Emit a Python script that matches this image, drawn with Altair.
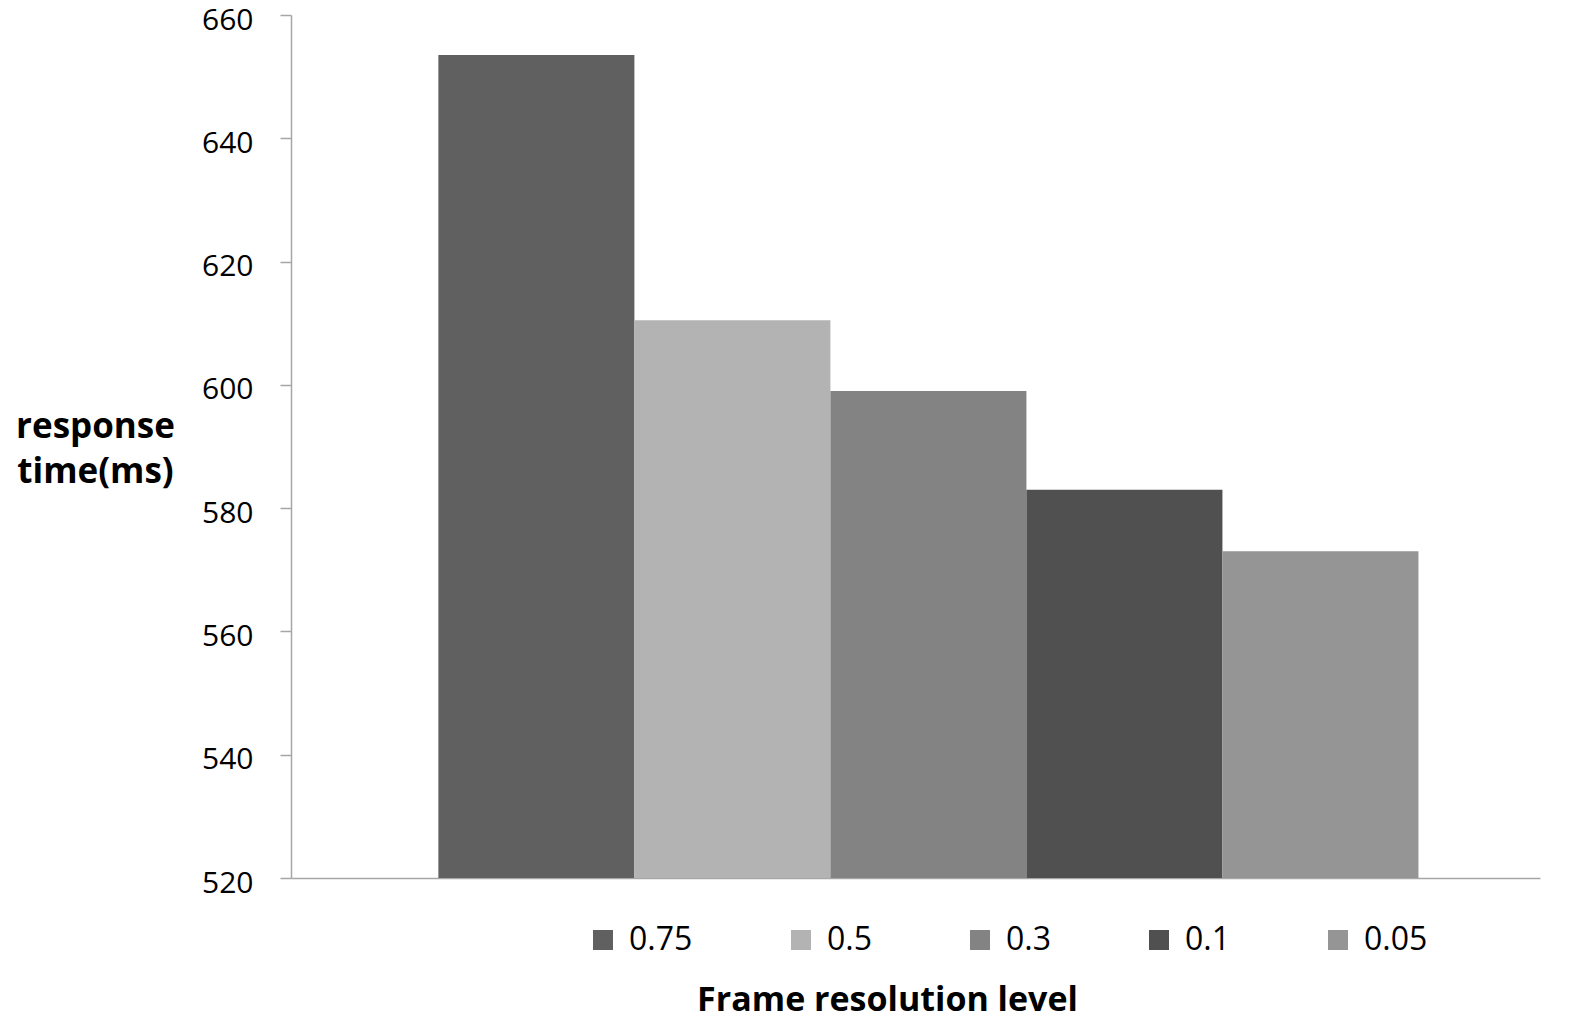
import altair as alt
import pandas as pd

levels = ["0.75", "0.5", "0.3", "0.1", "0.05"]
response_ms = [653.5, 610.5, 599.0, 583.0, 573.0]
colors = ["#606060", "#b3b3b3", "#838383", "#505050", "#959595"]
y_ticks = [520, 540, 560, 580, 600, 620, 640, 660]

df = pd.DataFrame({"level": levels, "rt": response_ms})

FONT = "Open Sans"

chart = alt.Chart(df).mark_bar(strokeWidth=0, clip=True).encode(
    x=alt.X(
        "level:N",
        sort=levels,
        scale=alt.Scale(paddingInner=0, paddingOuter=0.686, align=0.548),
        axis=alt.Axis(
            labels=False, ticks=False, domain=True, domainColor="#a6a6a6", domainWidth=1.5,
            title="Frame resolution level", titleFont=FONT, titleFontSize=34,
            titleFontWeight="bold", titleColor="#000000",
            titleX=596, titleY=132, titleAlign="center", titleBaseline="alphabetic",
        ),
    ),
    y=alt.Y(
        "rt:Q",
        scale=alt.Scale(domain=[520, 660], zero=False, nice=False),
        axis=alt.Axis(
            values=y_ticks, grid=False, tickSize=11, tickColor="#a6a6a6", tickWidth=1.5,
            domainColor="#a6a6a6", domainWidth=1.5,
            labelFont=FONT, labelFontSize=30, labelColor="#000000", labelPadding=27,
            labelOffset=5,
            title=["response", "time(ms)"], titleFont=FONT, titleFontSize=35,
            titleFontWeight="bold", titleColor="#000000", titleAngle=0,
            titleX=-196, titleY=422, titleAlign="center", titleBaseline="alphabetic",
            titleLineHeight=45,
        ),
    ),
    color=alt.Color(
        "level:N",
        sort=levels,
        scale=alt.Scale(domain=levels, range=colors),
        legend=alt.Legend(
            title=None, orient="none", legendX=296, legendY=909, direction="horizontal",
            columns=5, gridAlign="none", columnPadding=92, padding=0,
            symbolType="square", symbolSize=400, symbolStrokeWidth=0,
            labelFont=FONT, labelFontSize=32, labelColor="#000000", labelOffset=10,
        ),
    ),
).properties(
    width=1249, height=863,
    padding={"left": 283, "top": 7, "right": 20, "bottom": 142},
    autosize="none",
).configure_view(stroke=None)

chart.save("out.html", embed_options={"renderer": "svg", "actions": False})
